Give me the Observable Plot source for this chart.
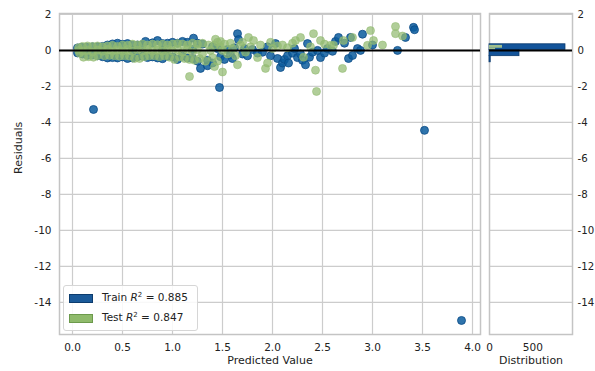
<!DOCTYPE html>
<html><head><meta charset="utf-8">
<script src="https://cdn.jsdelivr.net/npm/d3@7"></script>
<script src="https://cdn.jsdelivr.net/npm/@observablehq/plot@0.6"></script>
<style>
html,body{margin:0;padding:0;background:#fff;}
#wrap{position:relative;width:595px;height:371px;overflow:hidden;font-family:"DejaVu Sans",sans-serif;background:#fff;}
#main,#hist{position:absolute;top:0;}
#main{left:0;} #hist{left:460px;}
.legend{position:absolute;left:63px;top:285px;width:133px;height:44px;border:1px solid #d6d6d6;border-radius:3px;background:rgba(255,255,255,0.85);}
.patch{position:absolute;width:22px;height:7px;}
.ltext{position:absolute;font-size:10.5px;line-height:14px;color:#222;white-space:nowrap;}
.ltext sup{font-size:7px;vertical-align:top;position:relative;top:-2px;}
</style></head>
<body>
<div id="wrap">
  <div id="main"></div>
  <div id="hist"></div>
  <div class="legend"></div>
  <div class="patch" style="left:69px;top:294px;background:#1b5a99;border:1px solid #0c3c6e"></div>
  <div class="ltext" style="left:102px;top:290px">Train <i>R</i><sup>2</sup> = 0.885</div>
  <div class="patch" style="left:69px;top:314px;background:#8fba6b;border:1px solid #6c9a4c"></div>
  <div class="ltext" style="left:102px;top:310px">Test <i>R</i><sup>2</sup> = 0.847</div>
</div>
<script>
// ---- data ----
const xTicks = [0, 0.5, 1, 1.5, 2, 2.5, 3, 3.5, 4];
const yTicks = [2, 0, -2, -4, -6, -8, -10, -12, -14];
const histTicks = [0, 500];

// train: [predicted value, residual]
const trainPoints = [
  [0.05,0.14],[0.05,-0.14],[0.09,0.17],[0.1,-0.2],[0.14,0.18],[0.15,-0.27],[0.2,0.2],[0.2,-0.25],
  [0.25,0.2],[0.25,-0.3],[0.3,0.22],[0.3,-0.35],[0.35,0.3],[0.35,-0.42],[0.4,0.36],[0.4,-0.4],
  [0.45,0.4],[0.45,-0.42],[0.5,0.34],[0.5,-0.36],[0.55,0.38],[0.55,-0.45],[0.6,0.28],[0.6,-0.42],
  [0.65,0.3],[0.65,-0.35],[0.7,0.33],[0.7,-0.32],[0.73,0.5],[0.75,-0.4],[0.8,0.42],[0.8,-0.36],
  [0.85,0.55],[0.85,-0.42],[0.9,0.38],[0.9,-0.46],[0.95,0.4],[0.95,-0.32],[1.0,0.45],[1.0,-0.36],
  [1.05,0.4],[1.05,-0.5],[1.1,0.5],[1.1,-0.32],[1.15,0.45],[1.15,-0.42],[1.21,0.68],[1.2,-0.45],
  [1.25,0.4],[1.25,-0.6],[1.3,0.35],[1.28,-1.0],[1.35,-0.85],[1.35,-0.55],[1.4,0.2],[1.4,-0.7],
  [0.3,0.0],[0.6,0.02],[0.9,0.0],[1.2,0.05],
  [0.21,-3.28],[1.47,-2.06],[3.52,-4.44],[3.89,-15.0],
  [1.45,0.1],[1.48,-0.35],[1.52,-0.5],[1.55,0.05],[1.58,-0.25],[1.6,-0.45],[1.62,0.15],[1.65,0.93],
  [1.66,0.6],[1.7,-0.2],[1.72,0.1],[1.75,-0.3],[1.8,0.05],[1.85,-0.15],[1.9,-0.1],[1.95,0.2],
  [1.98,-0.3],[2.03,0.38],[2.05,-0.45],[2.08,-0.95],[2.1,-0.7],[2.12,-0.5],[2.15,-0.3],[2.16,-0.7],
  [2.2,-0.15],[2.22,0.1],[2.25,-0.4],[2.28,-0.2],[2.3,-0.55],[2.33,-0.8],[2.35,0.38],[2.37,-0.38],
  [2.4,-0.1],[2.45,0.0],[2.48,-0.4],[2.52,-0.15],[2.55,0.1],[2.6,-0.05],[2.63,0.5],[2.66,0.72],
  [2.72,0.4],[2.76,-0.45],[2.78,0.72],[2.8,-0.28],[2.85,0.1],[2.88,0.0],[2.9,0.9],[3.0,0.3],
  [3.25,0.0],[3.33,0.72],[3.41,1.28],[3.42,1.15]
];

// test: [predicted value, residual]
const testPoints = [
  [0.06,0.15],[0.06,0.0],[0.07,-0.15],[0.1,0.22],[0.1,-0.05],[0.11,-0.38],[0.15,0.25],[0.15,0.0],
  [0.16,-0.35],[0.2,0.22],[0.2,-0.08],[0.21,-0.38],[0.25,0.25],[0.25,0.02],[0.25,-0.3],[0.3,0.2],
  [0.3,-0.05],[0.32,-0.3],[0.35,0.25],[0.35,0.05],[0.37,-0.28],[0.4,0.28],[0.4,-0.05],[0.42,-0.3],
  [0.45,0.22],[0.45,0.02],[0.47,-0.32],[0.5,0.3],[0.5,-0.05],[0.52,-0.3],[0.55,0.28],[0.55,0.05],
  [0.57,-0.32],[0.6,0.35],[0.6,-0.05],[0.62,-0.45],[0.65,0.3],[0.65,0.02],[0.67,-0.45],[0.7,0.35],
  [0.7,-0.05],[0.72,-0.35],[0.75,0.3],[0.75,0.05],[0.77,-0.3],[0.8,0.35],[0.8,-0.05],[0.82,-0.3],
  [0.85,0.32],[0.85,0.02],[0.87,-0.35],[0.9,0.35],[0.9,-0.05],[0.92,-0.3],[0.95,0.3],[0.95,0.05],
  [0.97,-0.38],[1.0,0.35],[1.0,-0.05],[1.02,-0.5],[1.05,0.38],[1.05,0.05],[1.07,-0.35],[1.1,0.35],
  [1.1,-0.1],[1.12,-0.45],[1.15,0.3],[1.15,0.05],[1.17,-0.5],[1.2,0.4],[1.2,-0.1],[1.22,-0.55],
  [1.25,0.35],[1.25,0.05],[1.27,-0.45],[1.3,0.4],[1.3,-0.2],[1.33,-0.6],[1.36,0.3],[1.38,0.0],
  [1.4,-0.4],[1.17,-1.45],[1.42,-0.9],[1.45,-0.6],[1.43,0.62],[1.48,0.5],
  [1.42,0.3],[1.45,0.45],[1.48,0.2],[1.5,0.0],[1.5,-1.2],[1.52,0.35],[1.55,-0.2],[1.58,0.4],
  [1.6,0.1],[1.63,-0.3],[1.65,-0.8],[1.68,0.3],[1.7,0.45],[1.73,-0.1],[1.76,0.72],[1.78,0.2],
  [1.81,0.55],[1.85,-0.4],[1.88,0.3],[1.93,-1.0],[1.95,-0.7],[1.98,0.45],[2.0,0.1],[2.05,0.25],
  [2.1,0.3],[2.15,0.15],[2.2,0.4],[2.23,0.55],[2.28,0.72],[2.31,-0.38],[2.38,0.2],[2.41,0.93],
  [2.43,-1.1],[2.44,-2.28],[2.48,0.55],[2.52,0.35],[2.58,0.28],[2.61,0.28],[2.7,-1.0],[2.71,0.55],
  [2.8,0.72],[2.95,0.28],[2.98,1.1],[3.01,0.55],[3.1,0.3],[3.23,1.33],[3.23,0.93],[3.3,0.8]
];

// residual distribution bins: [top, bottom, count]
const trainBins = [[0.34,0.03,877],[0.03,-0.32,346],[-0.32,-0.66,14]];
const testBins = [[0.28,0.12,150],[0.12,0.04,70]];

// ---- drawing ----
const yDomain = [-15.78, 2.05];
const fmtY = d => String(d);
const grid = {stroke: "#cccccc", strokeOpacity: 1, strokeWidth: 1.2};
const common = {height: 371, marginTop: 13, marginBottom: 37,
  style: {background: "transparent", fontFamily: "DejaVu Sans, sans-serif", overflow: "visible"}};

const main = Plot.plot({
  ...common, width: 485, marginLeft: 59, marginRight: 5,
  x: {domain: [-0.13, 4.08]},
  y: {domain: yDomain},
  marks: [
    Plot.gridX(xTicks, grid),
    Plot.gridY(yTicks, grid),
    Plot.frame({stroke: "#c4c4c4", strokeWidth: 1.5}),
    Plot.dot(trainPoints, {x: d => d[0], y: d => d[1], r: 4, fill: "#0b5c9e", fillOpacity: 0.85, stroke: "#0a4a85", strokeWidth: 0.8}),
    Plot.dot(testPoints, {x: d => d[0], y: d => d[1], r: 4, fill: "#93bb72", fillOpacity: 0.72, stroke: "#93bb72", strokeOpacity: 0.72, strokeWidth: 0.8}),
    Plot.ruleY([0], {stroke: "#000", strokeWidth: 2}),
    Plot.axisX(xTicks, {tickSize: 0, tickPadding: 9, tickFormat: d3.format(".1f"), fontSize: 10.5, fill: "#222", label: null}),
    Plot.axisY(yTicks, {tickSize: 0, tickPadding: 8, tickFormat: fmtY, fontSize: 10.5, fill: "#222", label: null}),
    Plot.text(["Predicted Value"], {frameAnchor: "bottom", dy: 26, fontSize: 11, fill: "#222", lineAnchor: "middle"}),
    Plot.text(["Residuals"], {frameAnchor: "left", dx: -41, rotate: -90, fontSize: 11, fill: "#222", lineAnchor: "middle"})
  ]
});
document.getElementById("main").appendChild(main);

const hist = Plot.plot({
  ...common, width: 135, marginLeft: 29, marginRight: 23,
  x: {domain: [0, 958]},
  y: {domain: yDomain},
  marks: [
    Plot.gridY(yTicks, grid),
    Plot.frame({stroke: "#c4c4c4", strokeWidth: 1.5}),
    Plot.rectX(trainBins, {x1: 0, x2: d => d[2], y1: d => d[1], y2: d => d[0], fill: "#13549a", stroke: "#0a3a6e", strokeWidth: 0.8}),
    Plot.rectX(testBins, {x1: 0, x2: d => d[2], y1: d => d[1], y2: d => d[0], fill: "#b9d18a", fillOpacity: 0.85}),
    Plot.ruleY([0], {stroke: "#000", strokeWidth: 2}),
    Plot.axisX(histTicks, {tickSize: 0, tickPadding: 9, fontSize: 10.5, fill: "#222", label: null}),
    Plot.axisY(yTicks, {anchor: "right", tickSize: 0, tickPadding: 5, tickFormat: fmtY, fontSize: 10.2, fill: "#222", label: null}),
    Plot.text(["Distribution"], {frameAnchor: "bottom", dy: 26, fontSize: 11, fill: "#222", lineAnchor: "middle"})
  ]
});
document.getElementById("hist").appendChild(hist);
</script>
</body></html>
